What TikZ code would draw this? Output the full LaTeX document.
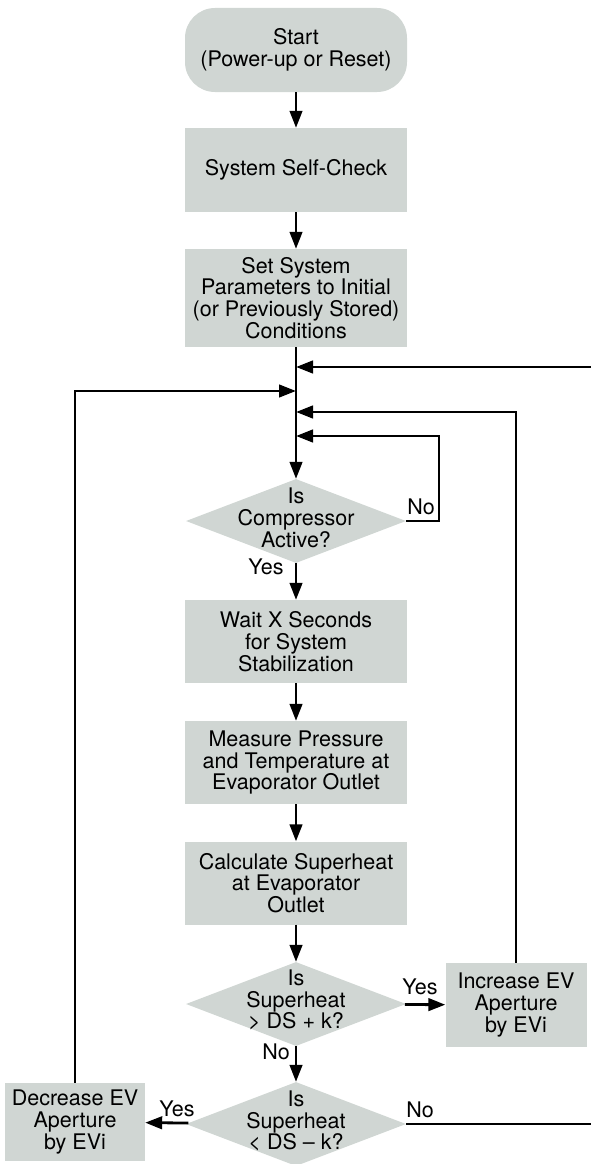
\documentclass[tikz,border=0pt]{standalone}
\usepackage{fontspec}
\setmainfont{TeX Gyre Heros}
\usetikzlibrary{shapes.geometric,arrows.meta}
\definecolor{boxfill}{RGB}{208,214,211}
\begin{document}
\begin{tikzpicture}[x=1pt,y=-1pt,
  font=\fontsize{21.5}{21.8}\selectfont,
  proc/.style={fill=boxfill, draw=none, minimum width=222pt, align=center, inner sep=0pt},
  term/.style={proc, rounded corners=30pt},
  dia/.style={shape=diamond, fill=boxfill, minimum width=220pt, minimum height=84pt, inner sep=0pt},
  txt/.style={align=center, inner sep=0pt},
  lbl/.style={inner sep=0pt},
  flow/.style={line width=2.8pt, -{Triangle[length=17pt,width=12.5pt]}}]
\useasboundingbox (0,0) rectangle (591,1164);

\node[term, minimum height=84pt] (start) at (296,50) {Start\\(Power-up or Reset)};
\node[proc, minimum height=84pt] (check) at (296,170) {System Self-Check};
\node[proc, minimum height=98pt] (set) at (296,298) {Set System\\Parameters to Initial\\(or Previously Stored)\\Conditions};
\node[dia] (d1) at (296,521) {};
\node[txt] (d1t) at (296,518) {Is\\Compressor\\Active?};
\node[proc, minimum height=83pt] (wait) at (296,641.5) {Wait X Seconds\\for System\\Stabilization};
\node[proc, minimum height=83pt] (meas) at (296,762.5) {Measure Pressure\\and Temperature at\\Evaporator Outlet};
\node[proc, minimum height=83pt] (calc) at (296,883) {Calculate Superheat\\at Evaporator\\Outlet};
\node[dia] (d2) at (296,1004) {};
\node[txt] (d2t) at (296,1000) {Is\\Superheat\\> DS + k?};
\node[proc, minimum width=141pt, minimum height=84pt] (inc) at (516,1005) {Increase EV\\Aperture\\by EVi};
\node[dia] (d3) at (296,1124) {};
\node[txt] (d3t) at (296,1121) {Is\\Superheat\\< DS – k?};
\node[proc, minimum width=140pt, minimum height=78pt] (dec) at (75,1122) {Decrease EV\\Aperture\\by EVi};

\coordinate (j1) at (296,367);
\coordinate (j2) at (296,391);
\coordinate (j3) at (296,412);
\coordinate (j4) at (296,436);
\coordinate (r1) at (602,1124);
\coordinate (nl) at (439,521);

\draw[flow] (start) -- (check);
\draw[flow] (check) -- (set);
\draw[flow] (set) -- (d1);
\draw[flow] (d3.east) -- (r1) |- (j1);
\draw[flow] (dec.north) |- (j2);
\draw[flow] (inc.north) |- (j3);
\draw[flow] (d1.east) -- (nl) |- (j4);
\draw[flow] (d1) -- (wait);
\draw[flow] (wait) -- (meas);
\draw[flow] (meas) -- (calc);
\draw[flow] (calc) -- (d2);
\draw[flow] (d2) -- (inc);
\draw[flow] (d2) -- (d3);
\draw[flow] (d3) -- (dec);

\node[lbl] (no1) at (421,507) {No};
\node[lbl] (yes1) at (266,567) {Yes};
\node[lbl] (yes2) at (420,987) {Yes};
\node[lbl] (no2) at (276,1052) {No};
\node[lbl] (yes3) at (177,1109) {Yes};
\node[lbl] (no3) at (420,1110) {No};
\end{tikzpicture}
\end{document}
